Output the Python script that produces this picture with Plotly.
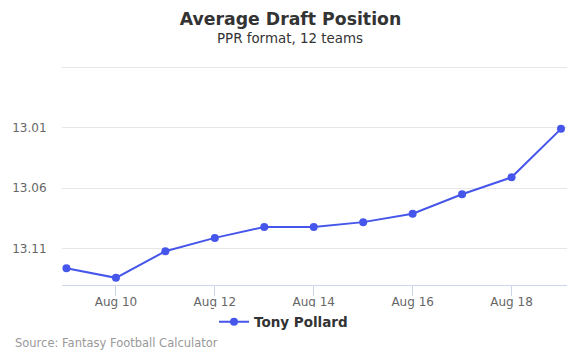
import plotly.graph_objects as go

dates = ["2023-08-09", "2023-08-10", "2023-08-11", "2023-08-12", "2023-08-13", "2023-08-14",
         "2023-08-15", "2023-08-16", "2023-08-17", "2023-08-18", "2023-08-19"]
adp = [13.126, 13.134, 13.112, 13.101, 13.092, 13.092, 13.088, 13.081, 13.065, 13.051, 13.011]
player = "Tony Pollard"
y_ticks = [12.96, 13.01, 13.06, 13.11]
y_tick_text = ["", "13.01", "13.06", "13.11"]
x_ticks = ["2023-08-10", "2023-08-12", "2023-08-14", "2023-08-16", "2023-08-18"]
x_tick_text = ["Aug 10", "Aug 12", "Aug 14", "Aug 16", "Aug 18"]

color = "#4656ea"
font = "DejaVu Sans"
W, H = 581, 363

fig = go.Figure()
fig.add_trace(go.Scatter(
    x=dates, y=adp, mode="lines+markers", name=f"<b>{player}</b>",
    line=dict(color=color, width=2),
    marker=dict(color=color, size=8),
))

fig.update_layout(
    width=W, height=H,
    margin=dict(l=62, r=14, t=66, b=78, autoexpand=False),
    paper_bgcolor="white", plot_bgcolor="white",
    font=dict(family=font, color="#666666", size=12),
    showlegend=True,
    legend=dict(orientation="h", xref="container", yref="container",
                x=214 / W, xanchor="left", y=1 - 322 / H, yanchor="middle",
                font=dict(family=font, size=13.5, color="#333333"),
                itemwidth=30),
    title=dict(text="<b>Average Draft Position</b>", xref="container", yref="container",
               x=0.5, xanchor="center",
               y=1 - 19 / H, yanchor="middle",
               font=dict(family=font, size=17.3, color="#333333")),
    annotations=[
        dict(text="PPR format, 12 teams", xref="paper", yref="paper",
             x=(290 - 62) / 505, xanchor="center", y=1 + (66 - 39) / 219,
             yanchor="middle", showarrow=False,
             font=dict(family=font, size=13.4, color="#333333")),
        dict(text="Source: Fantasy Football Calculator", xref="paper", yref="paper",
             x=-49 / 505, xanchor="left", y=-(343 - 285) / 219, yanchor="middle",
             showarrow=False, font=dict(family=font, size=11.5, color="#999999")),
    ],
)

fig.update_xaxes(
    type="date",
    range=["2023-08-08 21:50", "2023-08-19 02:55"],
    tickvals=x_ticks, ticktext=x_tick_text,
    showgrid=False, showline=True, linecolor="#ccd6eb", linewidth=1,
    ticks="outside", ticklen=10, tickcolor="#ccd6eb", ticklabelstandoff=-4,
    zeroline=False, automargin=False,
)
fig.update_yaxes(
    range=[13.1399, 12.9591],
    tickvals=y_ticks, ticktext=y_tick_text,
    showgrid=True, gridcolor="#e6e6e6", gridwidth=1,
    showline=False, zeroline=False, automargin=False,
    ticks="outside", ticklen=12, tickcolor="rgba(0,0,0,0)",
)

fig.write_html("out.html", config={"displayModeBar": False},
               post_script="document.body.style.margin='0px';")
